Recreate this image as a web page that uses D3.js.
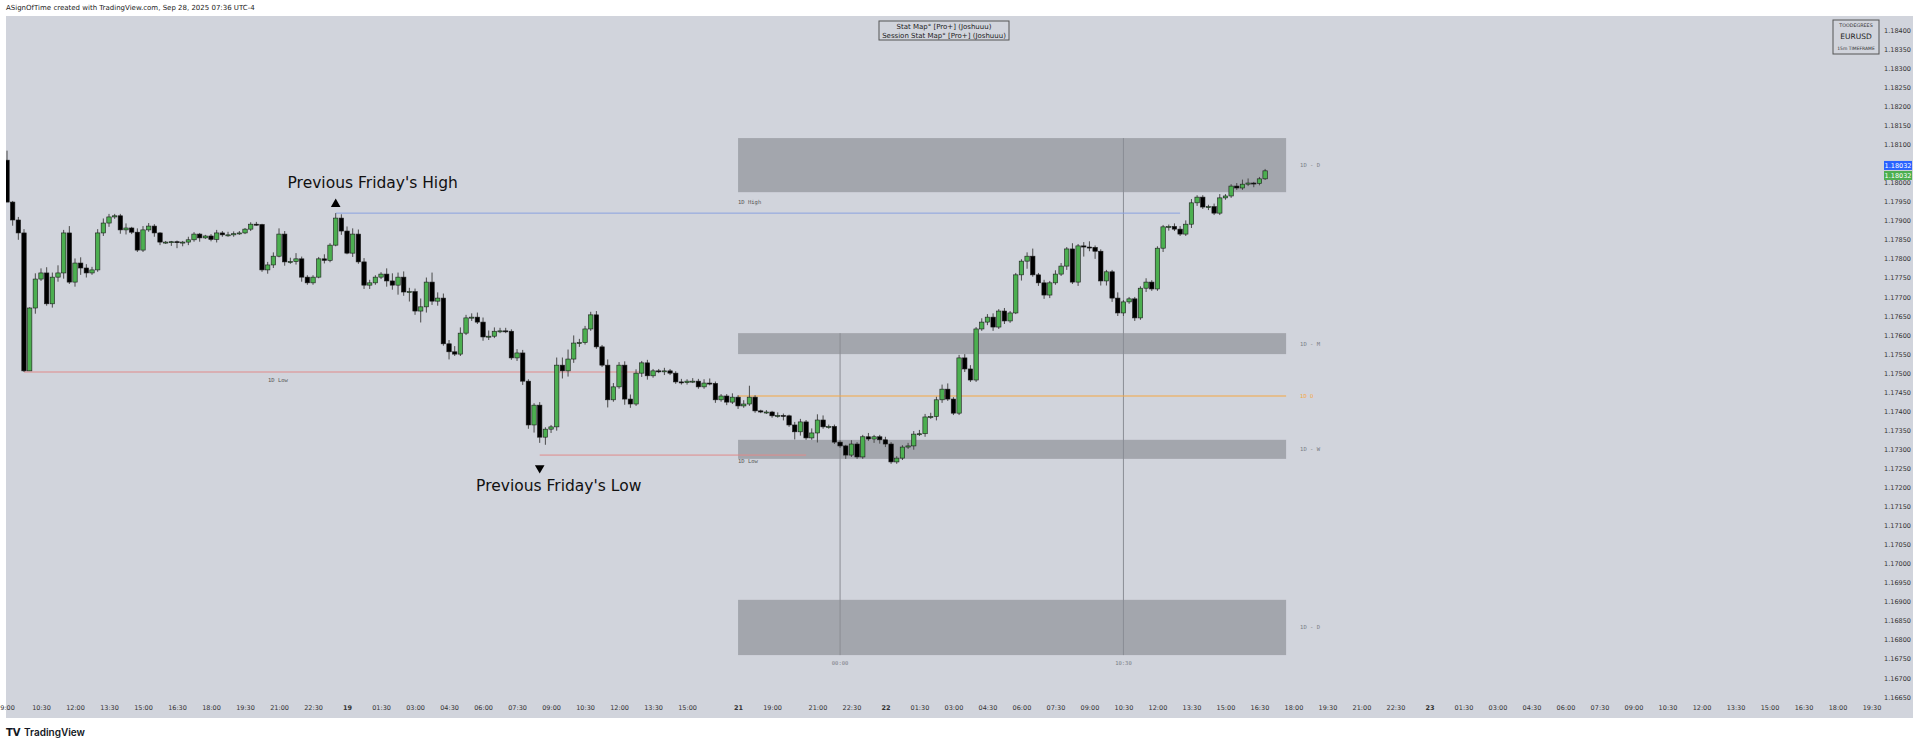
<!DOCTYPE html>
<html><head><meta charset="utf-8">
<script src="https://cdn.jsdelivr.net/npm/d3@7/dist/d3.min.js"></script>
<style>body{margin:0;background:#fff;}svg{display:block;}</style>
</head><body>
<svg id="c" width="1920" height="749"></svg>
<script>
const firstOpen = 1.18059;
const closes = [
1.17949,1.17902,1.17868,1.17506,1.17671,1.17747,1.17763,1.17682,1.17752,1.17763,
1.17868,1.17739,1.17789,1.17776,1.17763,1.17771,1.17868,1.17894,1.17910,1.17913,
1.17876,1.17881,1.17870,1.17823,1.17876,1.17886,1.17868,1.17844,1.17844,1.17845,
1.17843,1.17844,1.17850,1.17865,1.17855,1.17860,1.17851,1.17868,1.17863,1.17863,
1.17866,1.17868,1.17878,1.17891,1.17890,1.17771,1.17784,1.17807,1.17865,1.17792,
1.17793,1.17800,1.17752,1.17737,1.17752,1.17800,1.17796,1.17836,1.17907,1.17873,
1.17815,1.17865,1.17792,
1.17731,1.17737,1.17752,1.17760,1.17742,1.17731,1.17752,1.17713,1.17714,1.17663,
1.17674,1.17739,1.17689,1.17697,1.17577,1.17556,1.17550,1.17605,1.17645,1.17647,
1.17634,1.17595,1.17597,1.17610,1.17611,1.17610,1.17540,1.17553,1.17479,1.17364,
1.17416,1.17332,1.17353,1.17359,1.17521,1.17506,1.17537,1.17579,1.17580,1.17616,
1.17653,1.17569,1.17521,1.17430,1.17464,1.17521,1.17432,1.17419,1.17500,1.17527,
1.17493,1.17506,1.17505,1.17506,1.17500,1.17477,1.17475,1.17479,1.17479,1.17464,
1.17474,1.17473,1.17430,1.17440,1.17424,1.17437,1.17414,
1.17419,1.17437,1.17401,1.17398,1.17398,1.17388,1.17389,1.17388,1.17364,1.17346,
1.17372,1.17330,1.17343,1.17377,1.17359,1.17360,1.17319,1.17309,1.17285,1.17314,
1.17280,1.17333,1.17327,1.17333,1.17325,1.17314,1.17267,1.17277,1.17306,1.17309,
1.17340,1.17341,1.17385,1.17386,1.17430,1.17458,1.17432,1.17395,1.17540,1.17511,
1.17482,
1.17616,1.17634,1.17647,1.17621,1.17663,1.17637,1.17658,1.17758,1.17794,1.17807,
1.17758,1.17737,1.17705,1.17737,1.17760,1.17781,1.17826,1.17739,1.17834,1.17831,
1.17830,1.17820,1.17742,1.17766,1.17697,1.17658,1.17687,1.17695,1.17645,1.17723,
1.17739,1.17721,1.17828,1.17884,1.17885,1.17878,1.17865,1.17891,1.17947,1.17962,
1.17936,1.17937,1.17920,1.17960,1.17965,1.17991,1.17986,1.17996,1.17999,1.17998,
1.18010,1.18031];
// wick extensions in points (0.00001) above body / below body
const wickHi = [
25,3,8,10,2,15,12,15,12,20, 8,18,12,15,10,8,10,12,8,5, 5,12,3,10,10,8,5,2,3,2,
3,3,8,5,3,3,5,8,5,8, 6,5,3,5,6,2,8,10,15,8, 10,15,6,5,5,5,12,5,13,10, 12,15,12,
10,8,5,5,15,20,12,15,10,8, 22,12,25,15,12,10,15,15,8,10, 12,12,15,10,8,8,5,10,8,5,
5,8,5,5,20,20,25,20,10,8, 8,10,5,15,10,8,10,12,10,5, 8,5,5,8,5,5,8,5,8,6, 10,12,5,5,5,10,5,
10,30,5,3,5,3,8,5,3,8, 8,5,12,15,12,5,5,5,3,10, 5,5,10,5,5,8,5,5,5,8, 8,10,8,10,8,12,15,5,8,10, 10,
5,10,8,10,5,8,5,5,5,10, 20,5,8,5,10,8,5,15,5,10, 15,5,5,5,5,15,5,5,5,5, 10,5,5,5,5,8,8,10,10,5,
5,5,8,10,5,5,8,12,12,3, 5,5];
const wickLo = [
0,15,18,3,0,15,5,5,10,12, 15,5,12,18,12,5,5,8,10,5, 10,12,5,5,5,5,10,8,5,10,
15,10,8,5,10,3,5,8,5,5, 5,3,3,5,3,5,10,8,3,10, 5,8,12,5,5,3,8,5,3,10, 3,10,5,
10,10,5,5,15,12,25,10,25,10, 30,15,10,12,5,20,5,5,5,8, 5,10,8,5,5,5,5,8,10,10,
20,15,20,10,10,20,15,10,10,5, 5,5,5,20,5,5,15,10,5,10, 10,5,5,10,5,5,5,5,5,5, 5,5,8,5,8,5,8,
5,5,5,3,5,5,5,12,5,20, 10,5,5,25,5,5,5,5,10,5, 5,5,5,10,10,8,5,5,5,5, 10,5,8,5,10,8,5,5,5,8, 5,
5,5,8,10,5,8,5,3,15,20, 5,8,10,8,5,5,10,5,10,25, 10,20,12,12,10,8,8,5,8,5, 10,5,5,10,10,5,5,5,10,8,
5,8,5,5,5,5,5,5,5,10, 5,3];

const timeLabels = ["9:00","10:30","12:00","13:30","15:00","16:30","18:00","19:30","21:00","22:30","19","01:30","03:00","04:30","06:00","07:30","09:00","10:30","12:00","13:30","15:00",
"21","19:00","21:00","22:30",
"22","01:30","03:00","04:30","06:00","07:30","09:00","10:30","12:00","13:30","15:00","16:30","18:00","19:30","21:00","22:30",
"23","01:30","03:00","04:30","06:00","07:30","09:00","10:30","12:00","13:30","15:00","16:30","18:00","19:30"];
const timeIdx = [0,6,12,18,24,30,36,42,48,54,60,66,72,78,84,90,96,102,108,114,120,
129,135,143,149,
155,161,167,173,179,185,191,197,203,209,215,221,227,233,239,245,
251,257,263,269,275,281,287,293,299,305,311,317,323,329];
const boldLabels = ["19","21","22","23"];
const priceTicks = [];
for (let k=0;k<=35;k++) priceTicks.push(+(1.16650+k*0.0005).toFixed(5));
const zones = [{top:1.18117,bot:1.17975,lab:"1D - D"},{top:1.17605,bot:1.17550,lab:"1D - M"},
               {top:1.17325,bot:1.17275,lab:"1D - W"},{top:1.16905,bot:1.16760,lab:"1D - D"}];
const zoneRange = [129, 225];
const openLevel = 1.17440;
const fridayHigh = 1.17920, fridayHighIdx = 58;
const fridayLow = 1.17285, fridayLowIdx = 94;
const dayLow = 1.17503;
const lastPrice = 1.18032;

const svg = d3.select("#c");
const W=1920;
const plot = {l:6, r:1913, t:16, b:718};
const x = d3.scaleLinear().domain([0,329]).range([7,1871.5]);
const y = d3.scaleLinear().domain([1.1765,1.1840]).range([316, 316-15*19.05]);

svg.append("rect").attr("width",W).attr("height",749).attr("fill","#fff");
svg.append("rect").attr("x",plot.l).attr("y",plot.t).attr("width",plot.r-plot.l).attr("height",plot.b-plot.t).attr("fill","#d1d4dc");
svg.append("text").attr("x",6).attr("y",10).attr("font-family","DejaVu Sans").attr("font-size",7).attr("fill","#222")
  .text("ASignOfTime created with TradingView.com, Sep 28, 2025 07:36 UTC-4");

svg.append("clipPath").attr("id","pc").append("rect").attr("x",plot.l).attr("y",plot.t).attr("width",1875-plot.l).attr("height",700-plot.t);
const g = svg.append("g").attr("clip-path","url(#pc)");

const zx0 = x(zoneRange[0]), zx1 = x(zoneRange[1])+4;
zones.forEach(z=>{
  g.append("rect").attr("x",zx0).attr("y",y(z.top)).attr("width",zx1-zx0).attr("height",y(z.bot)-y(z.top)).attr("fill","#a3a6ad");
  g.append("text").attr("x",zx1+14).attr("y",(y(z.top)+y(z.bot))/2+2).attr("font-family","DejaVu Sans Mono").attr("font-size",5.5).attr("fill","#7a7d85").text(z.lab);
});
[[147,1.17605],[197,1.18117]].forEach(([i,p],k)=>{
  g.append("line").attr("x1",x(i)).attr("x2",x(i)).attr("y1",y(p)).attr("y2",y(1.16760)).attr("stroke","#8a8d94").attr("stroke-width",1);
  g.append("text").attr("x",x(i)).attr("y",y(1.16760)+10).attr("text-anchor","middle").attr("font-family","DejaVu Sans Mono").attr("font-size",5.5).attr("fill","#7a7d85").text(k?"10:30":"00:00");
});
g.append("line").attr("x1",zx0).attr("x2",zx1).attr("y1",y(openLevel)).attr("y2",y(openLevel)).attr("stroke","#f5a742").attr("stroke-width",1);
g.append("text").attr("x",zx1+14).attr("y",y(openLevel)+2).attr("font-family","DejaVu Sans Mono").attr("font-size",5.5).attr("fill","#f5a742").text("1D  O");
g.append("line").attr("x1",x(fridayHighIdx)).attr("x2",x(207)).attr("y1",y(fridayHigh)).attr("y2",y(fridayHigh)).attr("stroke","#8aa2e0").attr("stroke-width",1);
g.append("text").attr("x",x(129)).attr("y",y(fridayHigh)-9).attr("font-family","DejaVu Sans Mono").attr("font-size",5.5).attr("fill","#555").text("1D High");
g.append("line").attr("x1",x(3)).attr("x2",x(112)).attr("y1",y(dayLow)).attr("y2",y(dayLow)).attr("stroke","#e08a8a").attr("stroke-width",1);
g.append("text").attr("x",278).attr("y",y(dayLow)+10).attr("text-anchor","middle").attr("font-family","DejaVu Sans Mono").attr("font-size",5.5).attr("fill","#555").text("1D Low");
g.append("line").attr("x1",x(fridayLowIdx)).attr("x2",x(141)).attr("y1",y(fridayLow)).attr("y2",y(fridayLow)).attr("stroke","#e08a8a").attr("stroke-width",1);
g.append("text").attr("x",x(129)).attr("y",y(fridayLow)+8).attr("font-family","DejaVu Sans Mono").attr("font-size",5.5).attr("fill","#555").text("1D Low");

const data = closes.map((c,i)=>{
  const o = i===0 ? firstOpen : closes[i-1];
  const h = Math.max(o,c) + (wickHi[i]||0)*1e-5;
  const l = Math.min(o,c) - (wickLo[i]||0)*1e-5;
  return {i,o,c,h,l};
});
const cg = g.append("g");
cg.selectAll("line.w").data(data).join("line").attr("class","w")
  .attr("x1",d=>x(d.i)).attr("x2",d=>x(d.i)).attr("y1",d=>y(d.h)).attr("y2",d=>y(d.l))
  .attr("stroke","#4a4a4a").attr("stroke-width",1);
cg.selectAll("rect.b").data(data).join("rect").attr("class","b")
  .attr("x",d=>x(d.i)-2.2).attr("width",4.4)
  .attr("y",d=>y(Math.max(d.o,d.c))).attr("height",d=>Math.max(1,Math.abs(y(d.o)-y(d.c))))
  .attr("fill",d=>d.c>=d.o?"#4caf50":"#000").attr("stroke","#1a1a1a").attr("stroke-width",0.6);

svg.append("path").attr("d",d3.symbol(d3.symbolTriangle,40)()).attr("transform",`translate(${x(fridayHighIdx)},${y(fridayHigh)-9})`).attr("fill","#000");
svg.append("path").attr("d",d3.symbol(d3.symbolTriangle,40)()).attr("transform",`translate(${x(fridayLowIdx)},${y(fridayLow)+13}) rotate(180)`).attr("fill","#000");
svg.append("text").attr("x",x(fridayHighIdx)+37).attr("y",y(fridayHigh)-25).attr("text-anchor","middle").attr("font-family","DejaVu Sans").attr("font-size",15.5).attr("fill","#111").text("Previous Friday's High");
svg.append("text").attr("x",x(fridayLowIdx)+19).attr("y",y(fridayLow)+36).attr("text-anchor","middle").attr("font-family","DejaVu Sans").attr("font-size",15.5).attr("fill","#111").text("Previous Friday's Low");

svg.append("rect").attr("x",879).attr("y",21).attr("width",130).attr("height",19).attr("fill","#d1d4dc").attr("stroke","#555").attr("stroke-width",1);
svg.append("text").attr("x",944).attr("y",29).attr("text-anchor","middle").attr("font-family","DejaVu Sans").attr("font-size",7).attr("fill","#222").text("Stat Map° [Pro+] (Joshuuu)");
svg.append("text").attr("x",944).attr("y",37.5).attr("text-anchor","middle").attr("font-family","DejaVu Sans").attr("font-size",7).attr("fill","#222").text("Session Stat Map° [Pro+] (Joshuuu)");
svg.append("rect").attr("x",1833).attr("y",20).attr("width",46).attr("height",34).attr("fill","#d1d4dc").attr("stroke","#555").attr("stroke-width",1);
svg.append("text").attr("x",1856).attr("y",27).attr("text-anchor","middle").attr("font-family","DejaVu Sans").attr("font-size",4.8).attr("fill","#333").text("TOODEGREES");
svg.append("text").attr("x",1856).attr("y",39).attr("text-anchor","middle").attr("font-family","DejaVu Sans").attr("font-size",7.5).attr("fill","#222").text("EURUSD");
svg.append("text").attr("x",1856).attr("y",50).attr("text-anchor","middle").attr("font-family","DejaVu Sans").attr("font-size",4.5).attr("fill","#333").text("15m TIMEFRAME");

const ra = svg.append("g").attr("transform","translate(1911,0)")
  .call(d3.axisRight(y).tickValues(priceTicks).tickFormat(d=>d.toFixed(5)).tickSize(0));
ra.select(".domain").remove();
ra.selectAll("text").attr("x",0).attr("text-anchor","end").attr("font-family","DejaVu Sans").attr("font-size",6.5).attr("fill","#333");
[[lastPrice,"#2962ff",-5],[lastPrice,"#4caf50",5]].forEach(([p,c,dy])=>{
  svg.append("rect").attr("x",1884).attr("y",y(p)+dy-4.5).attr("width",28).attr("height",9).attr("fill",c);
  svg.append("text").attr("x",1898).attr("y",y(p)+dy+2.3).attr("text-anchor","middle").attr("font-family","DejaVu Sans").attr("font-size",6.5).attr("fill","#fff").text(p.toFixed(5));
});

const ba = svg.append("g").attr("transform","translate(0,702)")
  .call(d3.axisBottom(x).tickValues(timeIdx).tickFormat((d,k)=>timeLabels[k]).tickSize(0));
ba.select(".domain").remove();
ba.selectAll("text").attr("font-family","DejaVu Sans").attr("font-size",6.5).attr("fill","#333")
  .attr("font-weight",(d,k)=>boldLabels.includes(timeLabels[k])?"bold":"normal");

svg.append("text").attr("x",6).attr("y",736).attr("font-family","DejaVu Sans").attr("font-weight","bold").attr("font-size",10).attr("fill","#131722").text("TV");
svg.append("text").attr("x",24).attr("y",736).attr("font-family","Inter, DejaVu Sans").attr("font-weight","600").attr("font-size",10).attr("fill","#131722").text("TradingView");
</script>
</body></html>
